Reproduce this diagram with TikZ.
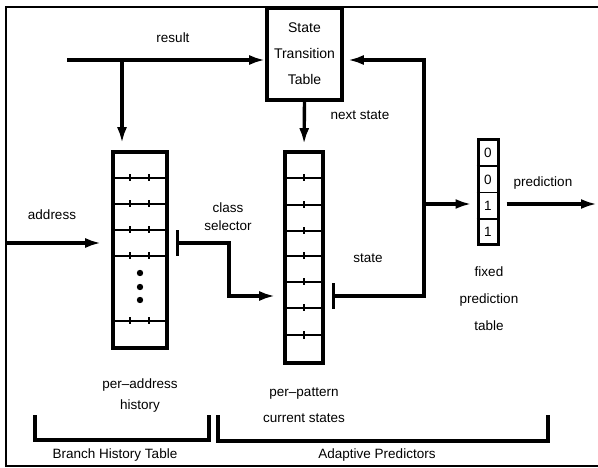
\documentclass[tikz,border=0pt]{standalone}
\usepackage{fontspec}
\setmainfont{Liberation Sans}
\usetikzlibrary{arrows.meta}

\tikzset{
  arr/.style={line width=3.4pt,-{Latex[length=16pt,width=10pt]}},
  bararr/.style={line width=3.4pt,{Bar[width=26pt]}-{Latex[length=16pt,width=10pt]}},
  tbl/.style={draw,line width=3.6pt,inner sep=0pt},
  lbl/.style={font=\fontsize{13.5}{15}\selectfont,align=center,inner sep=0pt},
  bracket/.style={line width=3.2pt}
}

\begin{document}
\begin{tikzpicture}[x=1pt,y=-1pt]
  \useasboundingbox (0,0) rectangle (598,468);
  \draw[line width=1.3pt] (598,7) -- (6,7) -- (6,466) -- (598,466);

  % tables
  \node[tbl,minimum width=75pt,minimum height=92pt,font=\fontsize{14}{26}\selectfont,align=center] (stt) at (304.5,54) {State\\Transition\\Table};
  \node[tbl,minimum width=54pt,minimum height=196pt] (hist) at (140,250) {};
  \node[tbl,minimum width=38pt,minimum height=211pt] (pat) at (304,257.5) {};
  \node[tbl,line width=3pt,minimum width=20pt,minimum height=105pt] (fpt) at (488,192.5) {};

  \foreach \y in {178,204,230,256,321} {
    \draw[line width=1.1pt] (hist.west |- 0,\y) -- (hist.east |- 0,\y);
    \foreach \x in {130,149}
      \draw[line width=1.1pt] (\x,\y-3.5) -- (\x,\y+3.5);
  }
  \foreach \y in {273,287,300}
    \fill (140,\y) circle (3.2pt);

  \foreach \y in {178,205,231,256,282,308,335} {
    \draw[line width=1.1pt] (pat.west |- 0,\y) -- (pat.east |- 0,\y);
    \draw[line width=1.1pt] (304,\y-3.5) -- (304,\y+3.5);
  }

  \foreach \y in {166.25,192.5,218.75}
    \draw[line width=1.8pt] (fpt.west |- 0,\y) -- (fpt.east |- 0,\y);
  \foreach \v [count=\i] in {0,0,1,1}
    \node[lbl] (bit\i) at (488,{140+26.25*(\i-0.5)}) {\v};

  % connectors
  \coordinate (res) at (67,60);
  \coordinate (resb) at (122,60);
  \coordinate (addr) at (6,243);
  \coordinate (cs) at (176,243);
  \coordinate (st) at (332,296);
  \coordinate (fb) at (424,204);
  \coordinate (pred) at (597,204);

  \draw[arr] (res) -- (res -| stt.west);
  \draw[arr,shorten >=7pt] (resb) -- (resb |- hist.north);
  \draw[arr,shorten >=10pt] (addr) -- (addr -| hist.west);
  \draw[bararr,shorten >=8pt] (cs) -| (229,296) -- (pat.west |- 0,296);
  \draw[arr,shorten >=6pt] (stt.south) -- (pat.north);
  \draw[bararr,shorten >=4pt] (st) -- (424,296) -- (424,60) -- (stt.east |- 0,60);
  \draw[arr,shorten >=5pt] (fb) -- (fb -| fpt.west);
  \draw[arr,shorten <=7pt] (fb -| fpt.east) -- (pred);

  % brackets
  \draw[bracket] (35,415) |- (209,440) -- (209,415);
  \draw[bracket] (218,415) |- (548,441) -- (548,415);

  % labels
  \node[lbl] (lres) at (173,38) {result};
  \node[lbl] (laddr) at (52,215) {address};
  \node[lbl,font=\fontsize{13.5}{18}\selectfont] (lcs) at (228,217) {class\\selector};
  \node[lbl] (lnext) at (360,115) {next state};
  \node[lbl] (lstate) at (368,258) {state};
  \node[lbl] (lpred) at (543,183) {prediction};
  \node[lbl,font=\fontsize{13.5}{27}\selectfont] (lfpt) at (489,299) {fixed\\prediction\\table};
  \node[lbl,font=\fontsize{13.5}{21}\selectfont] (lhist) at (140,396) {per--address\\history};
  \node[lbl,font=\fontsize{13.5}{26}\selectfont] (lpat) at (304,405) {per--pattern\\current states};
  \node[lbl] (lbht) at (115,455) {Branch History Table};
  \node[lbl] (lap) at (377,455) {Adaptive Predictors};
\end{tikzpicture}
\end{document}
